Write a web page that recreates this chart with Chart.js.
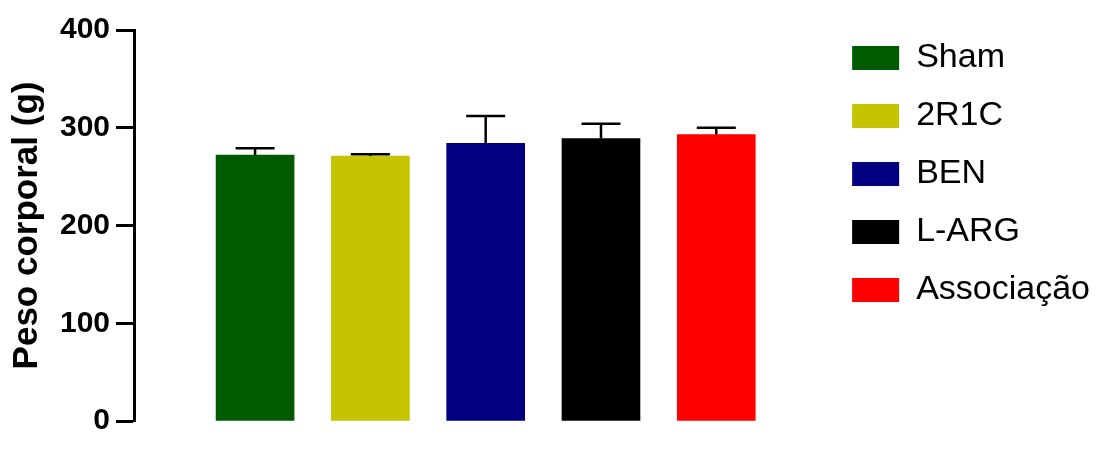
<!DOCTYPE html>
<html>
<head>
<meta charset="utf-8">
<script src="https://cdn.jsdelivr.net/npm/chart.js@4.4.1/dist/chart.umd.min.js"></script>
<style>
  html, body { margin: 0; padding: 0; background: #fff; }
  #wrap { width: 1105px; height: 459px; position: relative; }
</style>
</head>
<body>
<div id="wrap"><canvas id="pesoChart"></canvas></div>
<script>
// --- Data ---
const groups = ["Sham", "2R1C", "BEN", "L-ARG", "Associação"];
const pesoMedio = [272, 271, 284, 289, 293];
const pesoErro = [7, 2, 28, 15, 7];
const groupColors = ["#005a00", "#c4c400", "#000080", "#000000", "#ff0000"];
const yTicks = [0, 100, 200, 300, 400];

Chart.defaults.font.family = "'Liberation Sans', Arial, sans-serif";
Chart.defaults.color = "#000";

// one dataset per group so each gets its own legend entry
const datasets = groups.map((g, i) => ({
  label: g,
  data: [{ x: i + 1, y: pesoMedio[i] }],
  backgroundColor: groupColors[i],
  borderWidth: 0,
  barThickness: 78,
  grouped: false,
}));

// error bars (mean + SEM, upper side only)
const errorBars = {
  id: "errorBars",
  afterDatasetsDraw(chart) {
    const ctx = chart.ctx;
    const y = chart.scales.y;
    ctx.save();
    ctx.strokeStyle = "#000";
    ctx.lineWidth = 2.5;
    chart.data.datasets.forEach((ds, i) => {
      const bar = chart.getDatasetMeta(i).data[0];
      if (!bar) return;
      const top = y.getPixelForValue(pesoMedio[i]);
      const cap = y.getPixelForValue(pesoMedio[i] + pesoErro[i]);
      const half = bar.width / 4;
      ctx.beginPath();
      ctx.moveTo(bar.x, top);
      ctx.lineTo(bar.x, cap);
      ctx.moveTo(bar.x - half, cap);
      ctx.lineTo(bar.x + half, cap);
      ctx.stroke();
    });
    ctx.restore();
  },
};

const pesoChart = new Chart(document.getElementById("pesoChart"), {
  type: "bar",
  data: { datasets },
  options: {
    responsive: true,
    maintainAspectRatio: false,
    animation: false,
    layout: { padding: { top: 17, bottom: 38, left: 0, right: 5 } },
    plugins: {
      legend: {
        position: "right",
        align: "start",
        labels: {
          boxWidth: 47,
          boxHeight: 24,
          padding: 24,
          font: { size: 34 },
          color: "#000",
        },
      },
      tooltip: { enabled: false },
    },
    scales: {
      x: {
        type: "linear",
        display: false,
        offset: false,
        min: -0.05,
        max: 5.97,
      },
      y: {
        min: 0,
        max: 400,
        afterFit: (scale) => {
          scale.width = 134;
          scale.paddingTop = 30;
        },
        afterBuildTicks: (scale) => { scale.ticks = yTicks.map((v) => ({ value: v })); },
        border: { display: true, width: 3, color: "#000" },
        grid: {
          drawOnChartArea: false,
          drawTicks: true,
          tickLength: 18,
          tickWidth: 3,
          tickColor: "#000",
        },
        ticks: {
          padding: 6,
          color: "#000",
          font: { size: 30, weight: "bold" },
        },
        title: {
          display: true,
          text: "Peso corporal (g)",
          color: "#000",
          font: { size: 35, weight: "bold" },
          padding: { top: 6, bottom: 0 },
        },
      },
    },
  },
  plugins: [errorBars],
});
</script>
</body>
</html>
